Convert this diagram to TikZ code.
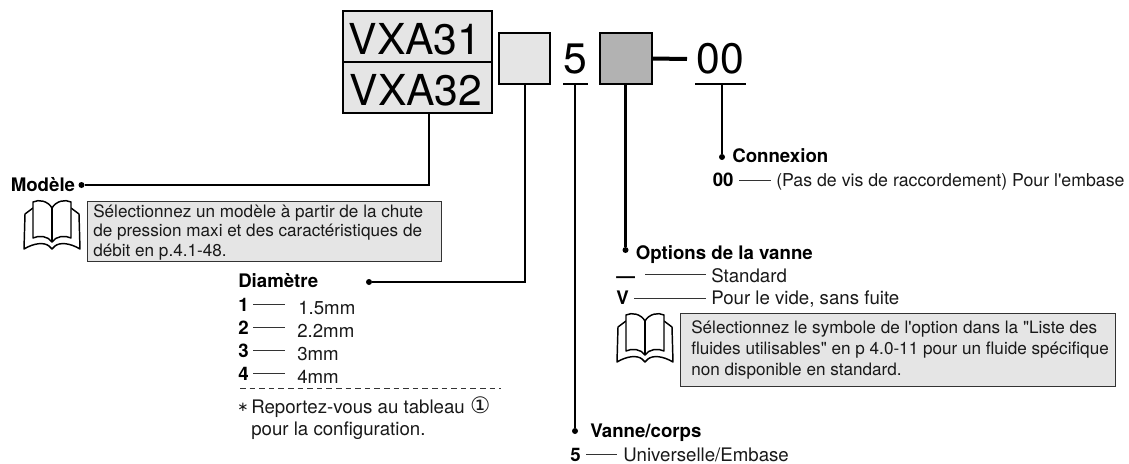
\documentclass[tikz,border=0pt]{standalone}
\usepackage{fontspec}
\setmainfont{TeX Gyre Heros}[Ligatures=TeXOff]
\newfontfamily\symfont{DejaVu Sans}
\newcommand{\bodyf}{\fontsize{14pt}{16pt}\selectfont}
\newcommand{\notef}{\fontsize{12.85pt}{15pt}\selectfont}
\newcommand{\connf}{\fontsize{13.3pt}{15pt}\selectfont}
\newcommand{\bigf}{\fontsize{32pt}{36pt}\selectfont}
\tikzset{
  txt/.style={anchor=base west,inner sep=0pt,font=\bodyf,text=black!90},
  notetxt/.style={txt,font=\notef},
  head/.style={anchor=base west,inner sep=0pt,font=\bodyf\bfseries},
  bigtxt/.style={anchor=base,inner sep=0pt,font=\bigf},
  lightbox/.style={draw=black,line width=1.5pt,fill=black!10,anchor=north west,inner sep=0pt,outer sep=0pt},
  darkbox/.style={draw=black,line width=1.5pt,fill=black!30,anchor=north west,inner sep=0pt,outer sep=0pt},
  notebox/.style={draw=black!80,line width=0.7pt,fill=black!10,anchor=north west,inner sep=0pt,outer sep=0pt},
  conn/.style={line width=1.7pt,line join=miter},
  under/.style={line width=1.3pt},
  bigdash/.style={line width=3pt},
  thin/.style={line width=0.5pt,draw=black!80},
  dot/.style={circle,fill=black,inner sep=0pt,outer sep=0pt,minimum size=4.5pt},
  bk/.style={line width=1.1pt,line join=round,draw=black,fill=white},
  pics/openbook/.style={code={
    \draw[bk] (9,8) -- (1,14) -- (0,49) .. controls (10,43) and (20,42) .. (25,46) -- (28,49) -- (31,46) .. controls (36,42) and (46,43) .. (56,49) -- (55,14) -- (47,8);
    \draw[bk] (28,8) .. controls (24,1) and (15,-1) .. (9,2) -- (9,38) .. controls (15,35) and (24,36) .. (28,42) .. controls (32,36) and (41,35) .. (47,38) -- (47,2) .. controls (41,-1) and (32,1) .. (28,8) -- cycle;
    \draw[bk] (28,8) -- (28,42);
  }}
}
\begin{document}
\begin{tikzpicture}[x=0.75pt,y=-0.75pt]
\useasboundingbox (0,0) rectangle (1129,464);
% part number boxes
\node[lightbox,minimum width=111.75pt,minimum height=38.25pt] (va) at (343,11) {};
\node[lightbox,minimum width=111.75pt,minimum height=38.25pt] (vb) at (343,62) {};
\node[lightbox,minimum width=38.25pt,minimum height=38.25pt] (bl) at (499,33) {};
\node[darkbox,minimum width=39pt,minimum height=38.25pt] (bd) at (600,33) {};
\node[bigtxt] (ta) at (415,55) {VXA31};
\node[bigtxt] (tb) at (416,105) {VXA32};
\node[bigtxt] (tf) at (575.5,73) {5};
\node[bigtxt] (tz) at (720.5,73) {00};
% underlines and dash
\coordinate (ufa) at (563,84); \coordinate (ufb) at (588,84);
\coordinate (uza) at (695,84); \coordinate (uzb) at (746,84);
\coordinate (dashend) at (687,59);
\draw[under] (ufa) -- (ufb);
\draw[under] (uza) -- (uzb);
\draw[bigdash] (bd.east) -- (dashend);
% dots
\node[dot] (dm) at (81.5,185) {};
\node[dot] (dd) at (369,282) {};
\node[dot] (do) at (625.5,250) {};
\node[dot] (dv) at (575,431) {};
\node[dot] (dc) at (722,157) {};
% anchors on the source shapes
\coordinate (sm) at (429,113);
\coordinate (sd) at (525,84);
\coordinate (so) at (625.5,84);
\coordinate (sv) at (575,84);
\coordinate (sc) at (722,84);
\draw[conn] (dm) -| (sm);
\draw[conn] (dd) -| (sd);
\draw[conn] (do) -- (so);
\draw[conn] (dv) -- (sv);
\draw[conn] (dc) -- (sc);
% Modele
\node[head] (hm) at (10.5,191) {Modèle};
\pic at (24,200) {openbook};
\node[notebox,minimum width=265.5pt,minimum height=45pt] (nm) at (87,201) {};
\node[notetxt] (nm1) at (93,217) {Sélectionnez un modèle à partir de la chute};
\node[notetxt] (nm2) at (93,236) {de pression maxi et des caractéristiques de};
\node[notetxt] (nm3) at (93,256) {débit en p.4.1-48.};
% Diametre
\node[head] (hd) at (238,287) {Diamètre};
\node[head] (k1) at (238,311) {1};
\node[head] (k2) at (238,334) {2};
\node[head] (k3) at (238,357) {3};
\node[head] (k4) at (238,380) {4};
\coordinate (l1a) at (253,304); \coordinate (l1b) at (285,304);
\coordinate (l2a) at (253,327); \coordinate (l2b) at (285,327);
\coordinate (l3a) at (253,350); \coordinate (l3b) at (285,350);
\coordinate (l4a) at (253,373); \coordinate (l4b) at (285,373);
\draw[thin] (l1a) -- (l1b);
\draw[thin] (l2a) -- (l2b);
\draw[thin] (l3a) -- (l3b);
\draw[thin] (l4a) -- (l4b);
\node[txt] (v1) at (298,314) {1.5mm};
\node[txt] (v2) at (297,337) {2.2mm};
\node[txt] (v3) at (297,360) {3mm};
\node[txt] (v4) at (297,383) {4mm};
\coordinate (da) at (240,388); \coordinate (db) at (501,388);
\draw[thin,dash pattern=on 4.2pt off 3pt] (da) -- (db);
\node[txt,font=\symfont\fontsize{10pt}{12pt}\selectfont] (st) at (237,411) {∗};
\node[txt] (r1) at (251,413) {Reportez-vous au tableau {\symfont\fontsize{17pt}{16pt}\selectfont ①}};
\node[txt] (r2) at (251,435) {pour la configuration.};
% Connexion
\node[head] (hc) at (732,162.5) {Connexion};
\node[head] (kc) at (712.5,186.5) {00};
\coordinate (lca) at (739,180); \coordinate (lcb) at (771,180);
\draw[thin] (lca) -- (lcb);
\node[txt,font=\connf] (vc) at (776,186) {(Pas de vis de raccordement) Pour l'embase};
% Options
\node[head] (ho) at (635.5,259) {Options de la vanne};
\node[head] (ko1) at (616,282) {—};
\node[head] (ko2) at (616,304) {V};
\coordinate (lo1a) at (645,274.5); \coordinate (lo1b) at (706,274.5);
\coordinate (lo2a) at (634,298); \coordinate (lo2b) at (706,298);
\draw[thin] (lo1a) -- (lo1b);
\draw[thin] (lo2a) -- (lo2b);
\node[txt] (vo1) at (711,282) {Standard};
\node[txt] (vo2) at (711,304) {Pour le vide, sans fuite};
\pic at (617,313) {openbook};
\node[notebox,minimum width=326.25pt,minimum height=54.75pt] (no) at (680,313) {};
\node[notetxt] (no1) at (691,333.5) {Sélectionnez le symbole de l'option dans la "Liste des};
\node[notetxt] (no2) at (691,354.5) {fluides utilisables" en p 4.0-11 pour un fluide spécifique};
\node[notetxt] (no3) at (691,375) {non disponible en standard.};
% Vanne
\node[head] (hv) at (590,437) {Vanne/corps};
\node[head] (kv) at (570,461) {5};
\coordinate (lva) at (586,454); \coordinate (lvb) at (617,454);
\draw[thin] (lva) -- (lvb);
\node[txt] (vv) at (623,461) {Universelle/Embase};
\end{tikzpicture}
\end{document}
